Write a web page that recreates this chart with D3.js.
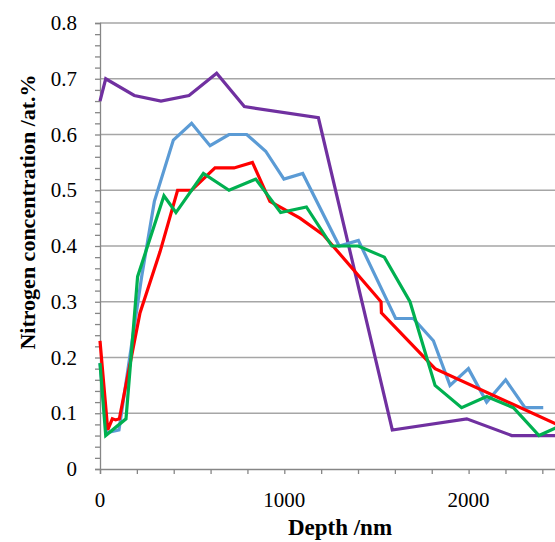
<!DOCTYPE html>
<meta charset="utf-8">
<script src="https://d3js.org/d3.v7.min.js"></script>
<style>
  body { margin: 0; background: #fff; }
</style>
<div id="chart"></div>
<script>
// depth (nm) / nitrogen (at.%)
const purpleX = [0, 31, 186, 331, 483, 633, 783, 1185, 1586, 1990, 2234, 2480];
const purpleY = [0.66, 0.70, 0.67, 0.66, 0.67, 0.71, 0.65, 0.63, 0.07, 0.09, 0.06, 0.06];

const blueX = [0, 35, 103, 226, 295, 398, 497, 597, 700, 796, 899, 998, 1100, 1298, 1402, 1604, 1700, 1809, 1899, 1999, 2098, 2201, 2306, 2405];
const blueY = [0.19, 0.065, 0.07, 0.345, 0.48, 0.59, 0.62, 0.58, 0.60, 0.60, 0.57, 0.52, 0.53, 0.40, 0.41, 0.27, 0.27, 0.23, 0.15, 0.18, 0.12, 0.16, 0.11, 0.11];

const redX = [0, 42, 67, 85, 105, 217, 326, 421, 497, 624, 727, 827, 922, 1085, 1212, 1525, 1527, 1818, 2480];
const redY = [0.23, 0.07, 0.09, 0.088, 0.09, 0.28, 0.39, 0.50, 0.50, 0.54, 0.54, 0.55, 0.48, 0.45, 0.42, 0.30, 0.28, 0.18, 0.08];

const greenX = [0, 31, 141, 204, 347, 412, 561, 700, 845, 980, 1120, 1258, 1402, 1543, 1682, 1818, 1962, 2098, 2243, 2382, 2480];
const greenY = [0.19, 0.06, 0.09, 0.345, 0.49, 0.46, 0.53, 0.50, 0.52, 0.46, 0.47, 0.40, 0.40, 0.38, 0.30, 0.15, 0.11, 0.13, 0.11, 0.06, 0.075];

const series = [
  {color: "#7030A0", xs: purpleX, ys: purpleY},
  {color: "#5B9BD5", xs: blueX, ys: blueY},
  {color: "#FF0000", xs: redX, ys: redY},
  {color: "#00B050", xs: greenX, ys: greenY}
];

const yTicks = [0, 0.1, 0.2, 0.3, 0.4, 0.5, 0.6, 0.7, 0.8];
const xTicks = [0, 1000, 2000];

const width = 555, height = 542;
const serif = "'Liberation Serif', 'Times New Roman', 'DejaVu Serif', serif";
const x = d3.scaleLinear().domain([0, 2500]).range([100, 100 + 2500 * 0.1843]);
const y = d3.scaleLinear().domain([0, 0.8]).range([469, 23]);

const svg = d3.select("#chart").append("svg")
  .attr("width", width)
  .attr("height", height)
  .attr("font-family", serif);

// gridlines
svg.append("g")
  .selectAll("line")
  .data(yTicks.slice(1))
  .join("line")
  .attr("x1", x(0)).attr("x2", width)
  .attr("y1", d => y(d)).attr("y2", d => y(d))
  .attr("stroke", "#A6A6A6")
  .attr("stroke-width", 1.3);

// y axis with minor ticks every 0.02
svg.append("g")
  .attr("transform", `translate(${x(0)},0)`)
  .call(d3.axisLeft(y).tickValues(d3.range(0, 0.801, 0.02)).tickSize(5).tickFormat(""))
  .call(g => g.select(".domain").attr("stroke", "#868686").attr("stroke-width", 1.3))
  .call(g => g.selectAll(".tick line").attr("stroke", "#868686").attr("stroke-width", 1.3));

svg.append("g")
  .selectAll("text")
  .data(yTicks)
  .join("text")
  .attr("x", 77)
  .attr("y", d => y(d) + 7)
  .attr("text-anchor", "end")
  .style("font-family", serif)
  .style("font-size", "21px")
  .text(d => d === 0 ? "0" : d3.format(".1f")(d));

// x axis with ticks every 200
svg.append("g")
  .attr("transform", `translate(0,${y(0)})`)
  .call(d3.axisBottom(x).tickValues(d3.range(0, 2501, 200)).tickSize(5).tickFormat(""))
  .call(g => g.select(".domain").attr("stroke", "#868686").attr("stroke-width", 1.3))
  .call(g => g.selectAll(".tick line").attr("stroke", "#868686").attr("stroke-width", 1.3));

svg.append("g")
  .selectAll("text")
  .data(xTicks)
  .join("text")
  .attr("x", d => x(d))
  .attr("y", 507)
  .attr("text-anchor", "middle")
  .style("font-family", serif)
  .style("font-size", "21px")
  .text(d => d);

// lines
const line = d3.line().x(d => x(d[0])).y(d => y(d[1]));
svg.append("g")
  .selectAll("path")
  .data(series)
  .join("path")
  .attr("d", s => line(s.xs.map((v, i) => [v, s.ys[i]])))
  .attr("fill", "none")
  .attr("stroke", s => s.color)
  .attr("stroke-width", 3.2)
  .attr("stroke-linejoin", "miter");

// axis titles
svg.append("text")
  .attr("x", 340)
  .attr("y", 535)
  .attr("text-anchor", "middle")
  .style("font-family", serif)
  .style("font-size", "23px")
  .style("font-weight", "bold")
  .text("Depth /nm");

svg.append("text")
  .attr("transform", "translate(35,212) rotate(-90)")
  .attr("text-anchor", "middle")
  .style("font-family", serif)
  .style("font-size", "22px")
  .style("font-weight", "bold")
  .text("Nitrogen concentration /at.%");
</script>
